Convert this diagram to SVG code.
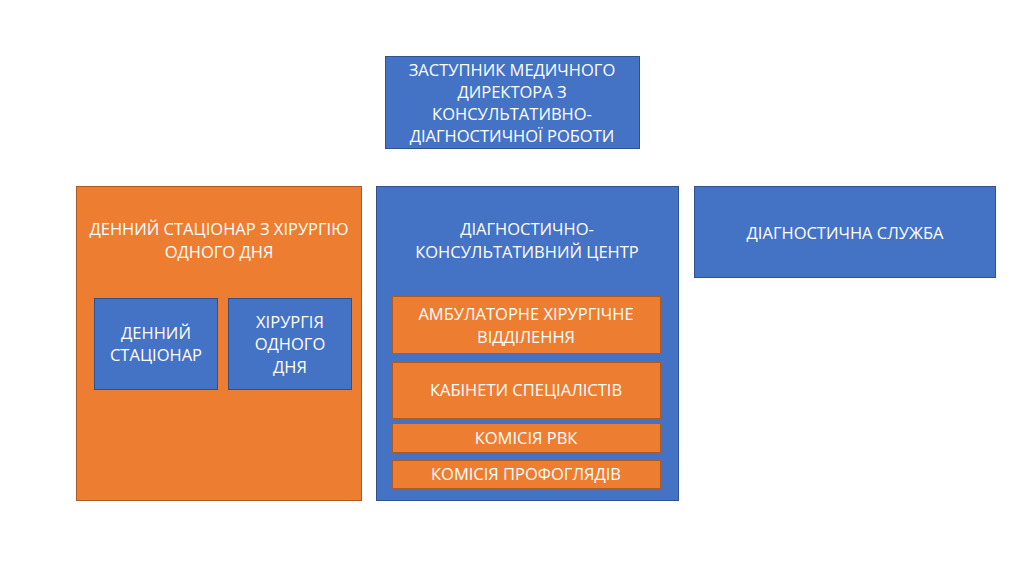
<svg xmlns="http://www.w3.org/2000/svg" width="1024" height="574" viewBox="0 0 1024 574">
<style>
.b{fill:#4472C4;stroke:#2F528F;stroke-width:1}
.o{fill:#ED7D31;stroke:#AE5A21;stroke-width:1}
text{font-family:"Open Sans","Liberation Sans",sans-serif;font-size:16.5px;fill:#fff;text-anchor:middle}
</style>
<rect width="1024" height="574" fill="#fff"/>
<g id="deputy">
<rect class="b" x="385.5" y="56.5" width="254" height="92"/>
<text x="512" y="76">ЗАСТУПНИК МЕДИЧНОГО</text>
<text x="512" y="98">ДИРЕКТОРА З</text>
<text x="512" y="120">КОНСУЛЬТАТИВНО-</text>
<text x="512" y="142">ДІАГНОСТИЧНОЇ РОБОТИ</text>
</g>
<g id="day-hospital">
<rect class="o" x="76.5" y="186.5" width="285" height="314"/>
<text x="219" y="235">ДЕННИЙ СТАЦІОНАР З ХІРУРГІЮ</text>
<text x="219" y="258">ОДНОГО ДНЯ</text>
</g>
<g id="day-stationary">
<rect class="b" x="94.5" y="298.5" width="123" height="91"/>
<text x="156" y="339">ДЕННИЙ</text>
<text x="156" y="361">СТАЦІОНАР</text>
</g>
<g id="one-day-surgery">
<rect class="b" x="228.5" y="298.5" width="123" height="91"/>
<text x="290" y="328">ХІРУРГІЯ</text>
<text x="290" y="350">ОДНОГО</text>
<text x="290" y="373">ДНЯ</text>
</g>
<g id="dcc">
<rect class="b" x="376.5" y="186.5" width="302" height="314"/>
<text x="527" y="235">ДІАГНОСТИЧНО-</text>
<text x="527" y="258">КОНСУЛЬТАТИВНИЙ ЦЕНТР</text>
</g>
<g id="ambulatory">
<rect class="o" x="392.5" y="296.5" width="268" height="57"/>
<text x="526" y="320">АМБУЛАТОРНЕ ХІРУРГІЧНЕ</text>
<text x="526" y="343">ВІДДІЛЕННЯ</text>
</g>
<g id="cabinets">
<rect class="o" x="392.5" y="362.5" width="268" height="56"/>
<text x="526" y="396">КАБІНЕТИ СПЕЦІАЛІСТІВ</text>
</g>
<g id="rvk">
<rect class="o" x="392.5" y="423.5" width="268" height="29"/>
<text x="526" y="444">КОМІСІЯ РВК</text>
</g>
<g id="prof">
<rect class="o" x="392.5" y="460.5" width="268" height="28"/>
<text x="526" y="480">КОМІСІЯ ПРОФОГЛЯДІВ</text>
</g>
<g id="diag-service">
<rect class="b" x="694.5" y="186.5" width="301" height="91"/>
<text x="845" y="239">ДІАГНОСТИЧНА СЛУЖБА</text>
</g>
<g id="connectors"/>
</svg>
